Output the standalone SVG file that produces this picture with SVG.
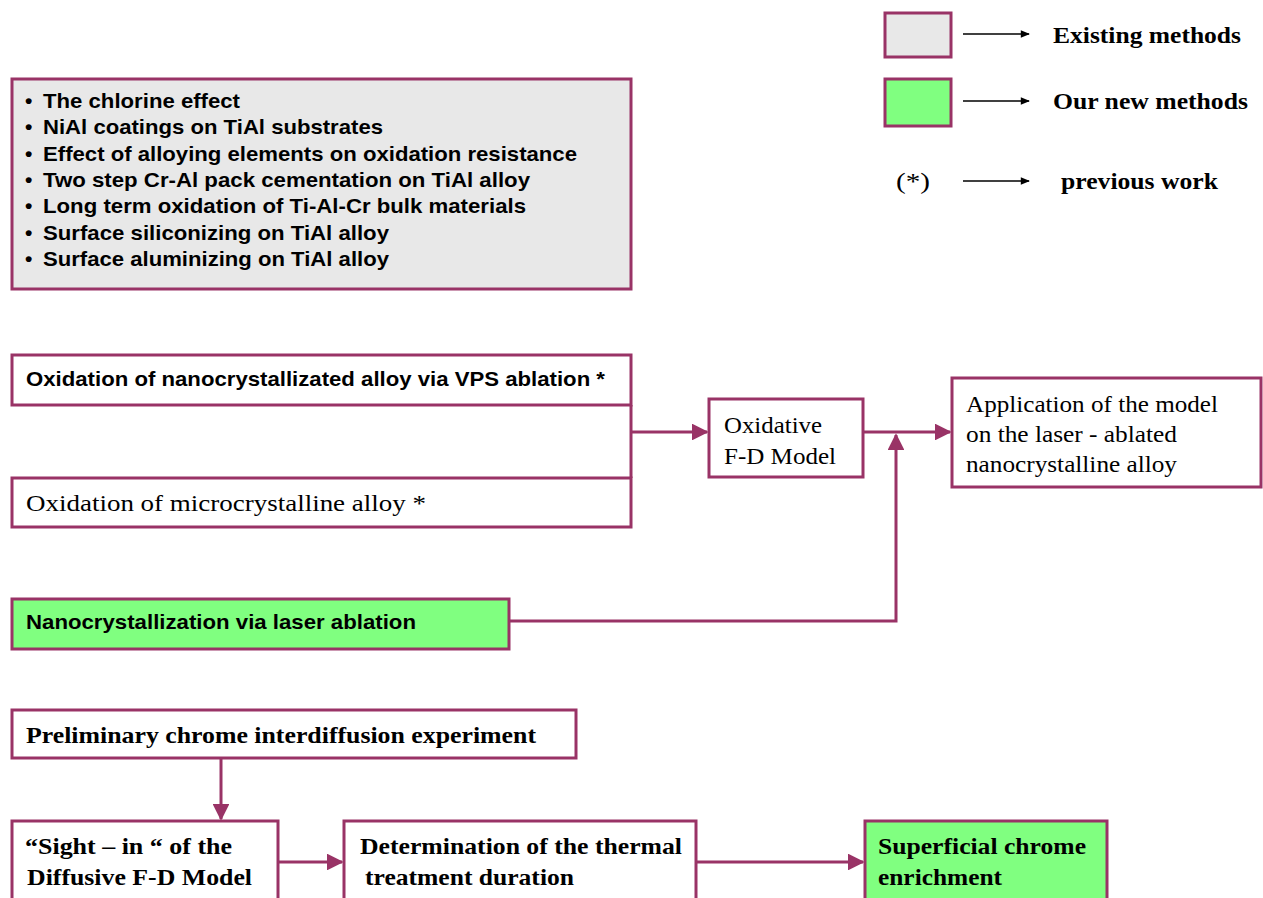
<svg xmlns="http://www.w3.org/2000/svg" width="1263" height="898" viewBox="0 0 1263 898">
<defs>
<style>
.box{stroke:#993366;stroke-width:3;fill:#ffffff}
.grey{fill:#e8e8e8}
.green{fill:#80ff80}
.con{stroke:#993366;stroke-width:3;fill:none}
.leg{stroke:#000;stroke-width:1.3;fill:none}
.sans{font-family:"Liberation Sans",Arial,sans-serif;font-weight:bold;font-size:21px;fill:#000}
.serif{font-family:"Liberation Serif","Times New Roman",serif;font-size:24px;fill:#000}
.b{font-weight:bold}
</style>
<marker id="ah" viewBox="0 0 10 10" refX="9" refY="5" markerWidth="5.8" markerHeight="5.6" markerUnits="strokeWidth" orient="auto">
<path d="M0,0 L10,5 L0,10 z" fill="#993366"/>
</marker>
<marker id="lh" viewBox="0 0 10 10" refX="9" refY="5" markerWidth="8" markerHeight="7" markerUnits="strokeWidth" orient="auto">
<path d="M0,1 L10,5 L0,9 z" fill="#000"/>
</marker>
</defs>

<g id="legend">
<rect class="box grey" x="885" y="13" width="66" height="44"/>
<rect class="box green" x="885" y="79" width="66" height="47"/>
<line class="leg" x1="963" y1="34" x2="1029" y2="34" marker-end="url(#lh)"/>
<line class="leg" x1="963" y1="101" x2="1029" y2="101" marker-end="url(#lh)"/>
<line class="leg" x1="963" y1="181" x2="1029" y2="181" marker-end="url(#lh)"/>
<text class="serif b" x="1053" y="43" textLength="188" lengthAdjust="spacingAndGlyphs">Existing methods</text>
<text class="serif b" x="1053" y="109" textLength="195" lengthAdjust="spacingAndGlyphs">Our new methods</text>
<text class="serif" x="896" y="189" textLength="34" lengthAdjust="spacingAndGlyphs">(*)</text>
<text class="serif b" x="1061" y="189" textLength="157" lengthAdjust="spacingAndGlyphs">previous work</text>
</g>

<g id="existing">
<rect class="box grey" x="12" y="79" width="619" height="210"/>
<g class="sans">
<text x="25" y="108">•</text>
<text x="43" y="108" textLength="197" lengthAdjust="spacingAndGlyphs">The chlorine effect</text>
<text x="25" y="134">•</text>
<text x="43" y="134" textLength="340" lengthAdjust="spacingAndGlyphs">NiAl coatings on TiAl substrates</text>
<text x="25" y="161">•</text>
<text x="43" y="161" textLength="534" lengthAdjust="spacingAndGlyphs">Effect of alloying elements on oxidation resistance</text>
<text x="25" y="187">•</text>
<text x="43" y="187" textLength="487" lengthAdjust="spacingAndGlyphs">Two step Cr-Al pack cementation on TiAl alloy</text>
<text x="25" y="213">•</text>
<text x="43" y="213" textLength="483" lengthAdjust="spacingAndGlyphs">Long term oxidation of Ti-Al-Cr bulk materials</text>
<text x="25" y="240">•</text>
<text x="43" y="240" textLength="346" lengthAdjust="spacingAndGlyphs">Surface siliconizing on TiAl alloy</text>
<text x="25" y="266">•</text>
<text x="43" y="266" textLength="346" lengthAdjust="spacingAndGlyphs">Surface aluminizing on TiAl alloy</text>
</g>
</g>

<g id="nano">
<rect class="box" x="12" y="355" width="619" height="50"/>
<text class="sans" x="26" y="386" textLength="579" lengthAdjust="spacingAndGlyphs">Oxidation of nanocrystallizated alloy via VPS ablation *</text>
</g>
<g id="micro">
<rect class="box" x="12" y="478" width="619" height="49"/>
<text class="serif" x="26" y="511" textLength="400" lengthAdjust="spacingAndGlyphs">Oxidation of microcrystalline alloy *</text>
</g>
<g id="oxidative">
<rect class="box" x="709" y="399" width="154" height="78"/>
<text class="serif" x="724" y="433" textLength="98" lengthAdjust="spacingAndGlyphs">Oxidative</text>
<text class="serif" x="724" y="464" textLength="112" lengthAdjust="spacingAndGlyphs">F-D Model</text>
</g>
<g id="application">
<rect class="box" x="952" y="378" width="309" height="109"/>
<text class="serif" x="966" y="412" textLength="252" lengthAdjust="spacingAndGlyphs">Application of the model</text>
<text class="serif" x="966" y="442" textLength="211" lengthAdjust="spacingAndGlyphs">on the laser - ablated</text>
<text class="serif" x="966" y="472" textLength="211" lengthAdjust="spacingAndGlyphs">nanocrystalline alloy</text>
</g>
<g id="laser">
<rect class="box green" x="12" y="599" width="497" height="50"/>
<text class="sans" x="26" y="629" textLength="390" lengthAdjust="spacingAndGlyphs">Nanocrystallization via laser ablation</text>
</g>
<g id="preliminary">
<rect class="box" x="12" y="710" width="564" height="48"/>
<text class="serif b" x="26" y="743" textLength="510" lengthAdjust="spacingAndGlyphs">Preliminary chrome interdiffusion experiment</text>
</g>
<g id="sightin">
<rect class="box" x="12" y="821" width="266" height="80"/>
<text class="serif b" x="25" y="854" textLength="207" lengthAdjust="spacingAndGlyphs">“Sight – in “ of the</text>
<text class="serif b" x="27" y="885" textLength="225" lengthAdjust="spacingAndGlyphs">Diffusive F-D Model</text>
</g>
<g id="determination">
<rect class="box" x="344" y="821" width="352" height="80"/>
<text class="serif b" x="360" y="854" textLength="322" lengthAdjust="spacingAndGlyphs">Determination of the thermal</text>
<text class="serif b" x="365" y="885" textLength="209" lengthAdjust="spacingAndGlyphs">treatment duration</text>
</g>
<g id="superficial">
<rect class="box green" x="865" y="821" width="242" height="80"/>
<text class="serif b" x="878" y="854" textLength="208" lengthAdjust="spacingAndGlyphs">Superficial chrome</text>
<text class="serif b" x="878" y="885" textLength="124" lengthAdjust="spacingAndGlyphs">enrichment</text>
</g>

<g id="connectors">
<line class="con" x1="631" y1="405" x2="631" y2="478"/>
<line class="con" x1="631" y1="432" x2="707" y2="432" marker-end="url(#ah)"/>
<line class="con" x1="863" y1="432" x2="950" y2="432" marker-end="url(#ah)"/>
<polyline class="con" points="509,621 896,621 896,435" marker-end="url(#ah)"/>
<line class="con" x1="221" y1="758" x2="221" y2="819" marker-end="url(#ah)"/>
<line class="con" x1="278" y1="862" x2="342" y2="862" marker-end="url(#ah)"/>
<line class="con" x1="696" y1="862" x2="863" y2="862" marker-end="url(#ah)"/>
</g>
</svg>
